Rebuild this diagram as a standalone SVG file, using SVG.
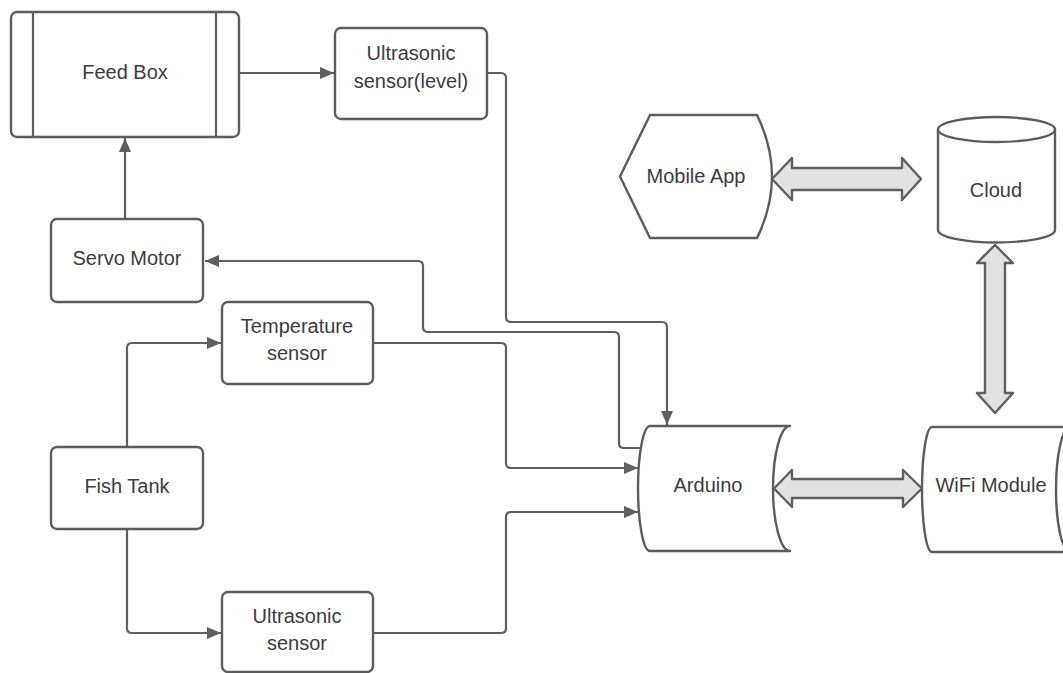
<svg xmlns="http://www.w3.org/2000/svg" width="1063" height="673" viewBox="0 0 1063 673">
<defs>
<style>
.n{fill:#fff;stroke:#5c5c5c;stroke-width:2.4;stroke-linejoin:round}
.t{font-family:"Liberation Sans",Arial,sans-serif;font-size:20px;fill:#3c3c3c;text-anchor:middle}
.c{fill:none;stroke:#5f5f5f;stroke-width:2.2}
.a{fill:none;stroke:#5f5f5f;stroke-width:2.2;marker-end:url(#ah)}
.d{fill:#e2e2e2;stroke:#5f5f5f;stroke-width:2.4;stroke-linejoin:round}
</style>
<marker id="ah" viewBox="0 0 14 12" refX="14" refY="6" markerWidth="14" markerHeight="12" markerUnits="userSpaceOnUse" orient="auto">
<path d="M0,0 L14,6 L0,12 Z" fill="#5f5f5f"/>
</marker>
</defs>
<rect width="1063" height="673" fill="#fff"/>
<g id="connectors">
<path class="a" d="M239,73 H334"/>
<path class="a" d="M125,219 V138"/>
<path class="a" d="M487,73 H501 q5,0 5,5 V317 q0,5 5,5 H662 q5,0 5,5 V425"/>
<path class="a" d="M641,448 H624 q-5,0 -5,-5 V337 q0,-5 -5,-5 H428 q-5,0 -5,-5 V266 q0,-5 -5,-5 H205"/>
<path class="a" d="M127,447 V348 q0,-5 5,-5 H221"/>
<path class="a" d="M373,343 H501 q5,0 5,5 V463 q0,5 5,5 H638"/>
<path class="a" d="M127,529 V628 q0,5 5,5 H221"/>
<path class="a" d="M373,633 H501 q5,0 5,-5 V517 q0,-5 5,-5 H638"/>
<path class="d" d="M772,179 L792,158 V168 H902 V158 L921,179 L902,200 V190 H792 V200 Z"/>
<path class="d" d="M774,488.5 L792,470 V479 H903 V470 L922,488.5 L903,507 V498 H792 V507 Z"/>
<path class="d" d="M995,245 L1013,263 H1005 V393 H1013 L995,413 L977,393 H985 V263 H977 Z"/>
</g>
<g id="feedbox">
<rect class="n" x="11" y="12" width="228" height="125" rx="6"/>
<path class="c" d="M33,12 V137 M216,12 V137"/>
<text class="t" x="125" y="79">Feed Box</text>
</g>
<g id="ultrasonic-level">
<rect class="n" x="335" y="28" width="152" height="91" rx="6"/>
<text class="t" x="411" y="60">Ultrasonic</text>
<text class="t" x="411" y="88">sensor(level)</text>
</g>
<g id="servo">
<rect class="n" x="51" y="219" width="152" height="83" rx="6"/>
<text class="t" x="127" y="265">Servo Motor</text>
</g>
<g id="temperature">
<rect class="n" x="222" y="302" width="151" height="82" rx="6"/>
<text class="t" x="297" y="333">Temperature</text>
<text class="t" x="297" y="360">sensor</text>
</g>
<g id="fishtank">
<rect class="n" x="51" y="447" width="152" height="82" rx="6"/>
<text class="t" x="127" y="493">Fish Tank</text>
</g>
<g id="ultrasonic">
<rect class="n" x="222" y="592" width="151" height="80" rx="6"/>
<text class="t" x="297" y="623">Ultrasonic</text>
<text class="t" x="297" y="650">sensor</text>
</g>
<g id="mobileapp">
<path class="n" d="M650,115 H757 Q787,176.5 757,238 H650 L620,176.5 Z"/>
<text class="t" x="696" y="183">Mobile App</text>
</g>
<g id="cloud">
<path class="n" d="M938,129.5 V230 A58.5,12.5 0 0 0 1055,230 V129.5 Z"/>
<ellipse class="n" cx="996.5" cy="129.5" rx="58.5" ry="12.5"/>
<text class="t" x="996" y="197">Cloud</text>
</g>
<g id="arduino">
<path class="n" d="M650,426 H790 A17,62.5 0 0 0 790,551 H650 A12,62.5 0 0 1 650,426 Z"/>
<text class="t" x="708" y="492">Arduino</text>
</g>
<g id="wifi">
<path class="n" d="M932,427 H1070 A14,62.5 0 0 0 1070,552 H932 A10,62.5 0 0 1 932,427 Z"/>
<text class="t" x="991" y="492">WiFi Module</text>
</g>
</svg>
